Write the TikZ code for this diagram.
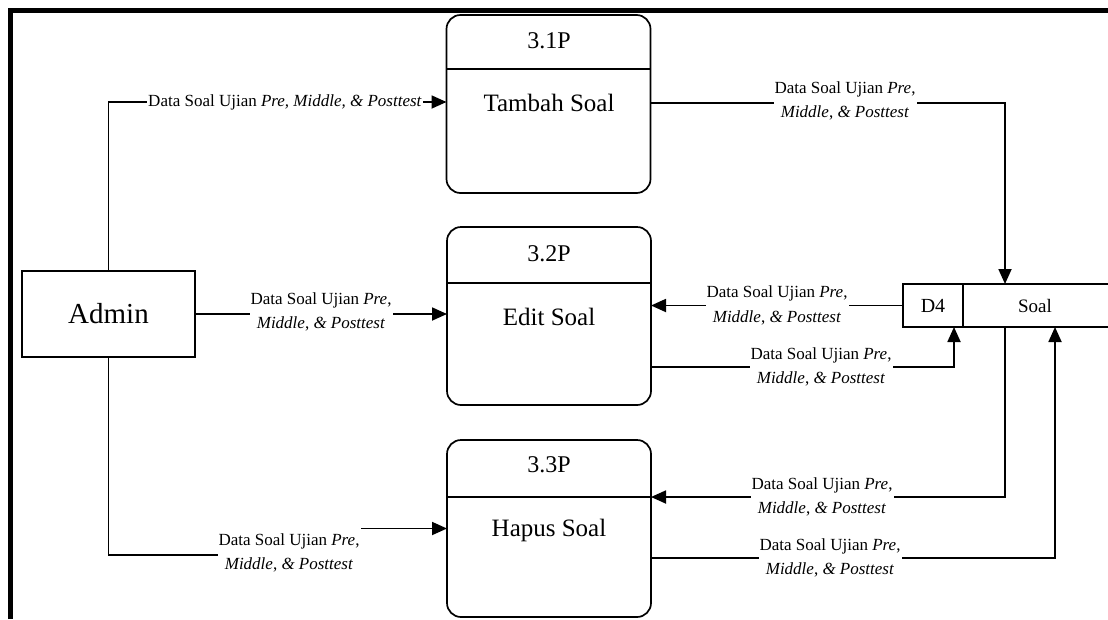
\documentclass[tikz,border=0pt]{standalone}
\usepackage{fontspec}
\setmainfont{Liberation Serif}
\usetikzlibrary{arrows.meta}
\tikzset{
  every node/.style={inner sep=0pt, outer sep=0pt},
  proc/.style={draw, line width=1.7pt, rounded corners=14pt, minimum width=204pt, minimum height=178pt},
  ent/.style={draw, line width=1.5pt, minimum width=173pt, minimum height=86pt, font=\fontsize{29}{32}\selectfont},
  ptitle/.style={font=\fontsize{24}{28}\selectfont},
  pname/.style={font=\fontsize{25}{29}\selectfont},
  flow/.style={line width=1.8pt, -{Triangle[length=15pt,width=13pt]}},
  lbl/.style={fill=white, align=center, inner xsep=1pt, inner ysep=2pt, font=\fontsize{17}{24.5}\selectfont},
}
\newcommand{\lbltwo}{Data Soal Ujian \textit{Pre},\\\textit{Middle}, \textit{\& Posttest}}
\begin{document}
\begin{tikzpicture}[x=1pt,y=-1pt]
\useasboundingbox (0,0) rectangle (1108,619);
% frame
\draw[line width=4.3pt] (10.5,619) -- (10.5,10.5) -- (1108,10.5);

% entity
\node[ent] (admin) at (108.5,314) {Admin};

% processes
\node[proc] (p1) at (548.5,104) {};
\draw[line width=1.7pt] (p1.west |- 0,69) -- (p1.east |- 0,69);
\node[ptitle] (t1) at (549,41) {3.1P};
\node[pname] (n1) at (549,103) {Tambah Soal};

\node[proc] (p2) at (549,316) {};
\draw[line width=1.7pt] (p2.west |- 0,283) -- (p2.east |- 0,283);
\node[ptitle] (t2) at (549,254) {3.2P};
\node[pname] (n2) at (549,317) {Edit Soal};

\node[proc, minimum height=177pt] (p3) at (549,528.5) {};
\draw[line width=1.7pt] (p3.west |- 0,497) -- (p3.east |- 0,497);
\node[ptitle] (t3) at (549,465) {3.3P};
\node[pname] (n3) at (549,530) {Hapus Soal};

% data store
\draw[line width=1.5pt] (1108,284) -- (903,284) -- (903,327) -- (1108,327);
\draw[line width=1.5pt] (963,284) -- (963,327);
\node[font=\fontsize{20}{24}\selectfont] (d4) at (933,305.5) {D4};
\node[font=\fontsize{19}{23}\selectfont] (soal) at (1035,305.5) {Soal};
\coordinate (d4w) at (903,305.5);
\coordinate (d4top) at (1005,284);
\coordinate (d4b1) at (954,327);
\coordinate (d4b2) at (1005,327);
\coordinate (d4b3) at (1055,327);

% connectors
\draw[flow] (admin.north) |- ([yshift=2pt]p1.west);
\node[lbl] (l1) at (285,102) {Data Soal Ujian \textit{Pre, Middle, \& Posttest}};

\draw[flow] (admin.east) -- (p2.west |- admin.east);
\node[lbl] (l2) at (321,312) {\lbltwo};

\coordinate (j1) at (300,555);
\coordinate (j2) at (300,528.5);
\draw[flow] (admin.south) |- (j1) -- (j2) -- (p3.west);
\node[lbl, inner ysep=7pt] (l3) at (289,553) {\lbltwo};

\draw[flow] (p1.east |- 0,103) -| (d4top);
\node[lbl] (l4) at (845,101) {\lbltwo};

\draw[flow] (d4w) -- (p2.east |- d4w);
\node[lbl] (l5) at (777,305.5) {\lbltwo};

\draw[flow] (p2.east |- 0,367) -| (d4b1);
\node[lbl] (l6) at (821,367) {\lbltwo};

\draw[flow] (d4b2) |- (p3.east |- 0,497);
\node[lbl] (l7) at (822,497) {\lbltwo};

\draw[flow] (p3.east |- 0,558) -| (d4b3);
\node[lbl] (l8) at (830,558) {\lbltwo};
\end{tikzpicture}
\end{document}
